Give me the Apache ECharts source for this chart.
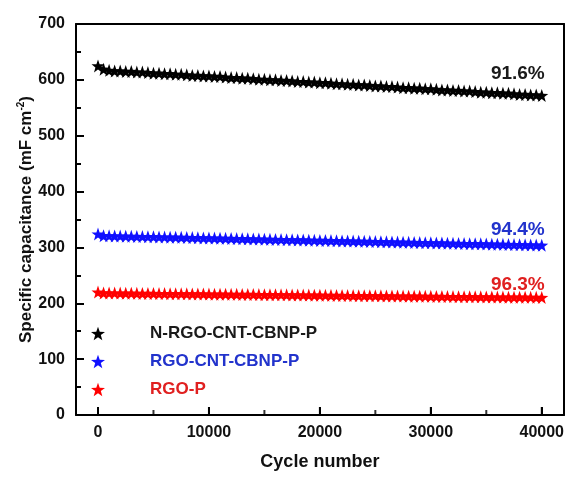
<!DOCTYPE html>
<html>
<head>
<meta charset="utf-8">
<script src="https://cdn.jsdelivr.net/npm/echarts@6/dist/echarts.min.js"></script>
<style>
  html, body { margin: 0; padding: 0; background: #fff; }
  #chart { width: 567px; height: 477px; }
</style>
</head>
<body>
<div id="chart"></div>
<script>
// cycle numbers (x)
const cycles = [
  0, 500, 1000, 1500, 2000, 2500, 3000, 3500, 4000, 4500,
  5000, 5500, 6000, 6500, 7000, 7500, 8000, 8500, 9000, 9500,
  10000, 10500, 11000, 11500, 12000, 12500, 13000, 13500, 14000, 14500,
  15000, 15500, 16000, 16500, 17000, 17500, 18000, 18500, 19000, 19500,
  20000, 20500, 21000, 21500, 22000, 22500, 23000, 23500, 24000, 24500,
  25000, 25500, 26000, 26500, 27000, 27500, 28000, 28500, 29000, 29500,
  30000, 30500, 31000, 31500, 32000, 32500, 33000, 33500, 34000, 34500,
  35000, 35500, 36000, 36500, 37000, 37500, 38000, 38500, 39000, 39500,
  40000
];

const nRgoCntCbnp = [
  625, 619, 617, 616, 616, 615, 615, 614, 614, 613,
  612, 612, 611, 611, 610, 610, 609, 608, 608, 607,
  607, 606, 606, 605, 604, 604, 603, 603, 602, 601,
  601, 600, 600, 599, 599, 598, 597, 597, 596, 596,
  595, 595, 594, 593, 593, 592, 592, 591, 591, 590,
  589, 589, 588, 588, 587, 586, 586, 585, 585, 584,
  584, 583, 582, 582, 581, 581, 580, 580, 579, 578,
  578, 577, 577, 576, 576, 575, 574, 574, 573, 573,
  572
];

const rgoCntCbnp = [
  324, 321.0, 320.8, 320.6, 320.4, 320.1, 319.9, 319.7, 319.5, 319.3,
  319.1, 318.8, 318.6, 318.4, 318.2, 318.0, 317.8, 317.6, 317.3, 317.1,
  316.9, 316.7, 316.5, 316.3, 316.0, 315.8, 315.6, 315.4, 315.2, 315.0,
  314.8, 314.5, 314.3, 314.1, 313.9, 313.7, 313.5, 313.3, 313.0, 312.8,
  312.6, 312.4, 312.2, 312.0, 311.7, 311.5, 311.3, 311.1, 310.9, 310.7,
  310.5, 310.2, 310.0, 309.8, 309.6, 309.4, 309.2, 308.9, 308.7, 308.5,
  308.3, 308.1, 307.9, 307.7, 307.4, 307.2, 307.0, 306.8, 306.6, 306.4,
  306.2, 305.9, 305.7, 305.5, 305.3, 305.1, 304.9, 304.6, 304.4, 304.2,
  304.0
];

const rgoP = [
  220, 218.5, 218.4, 218.3, 218.2, 218.1, 218.0, 217.8, 217.7, 217.6,
  217.5, 217.4, 217.3, 217.2, 217.1, 217.0, 216.9, 216.8, 216.7, 216.6,
  216.5, 216.4, 216.3, 216.2, 216.1, 216.0, 215.9, 215.8, 215.7, 215.6,
  215.5, 215.4, 215.3, 215.2, 215.1, 215.0, 214.9, 214.8, 214.7, 214.6,
  214.4, 214.3, 214.2, 214.1, 214.0, 213.9, 213.8, 213.7, 213.6, 213.5,
  213.4, 213.3, 213.2, 213.1, 213.0, 212.9, 212.8, 212.7, 212.6, 212.5,
  212.4, 212.3, 212.2, 212.1, 212.0, 211.9, 211.8, 211.7, 211.6, 211.5,
  211.4, 211.3, 211.2, 211.1, 211.0, 211.0, 210.9, 210.8, 210.7, 210.6,
  210.5
];

const seriesNames = ['N-RGO-CNT-CBNP-P', 'RGO-CNT-CBNP-P', 'RGO-P'];
const retention = ['91.6%', '94.4%', '96.3%'];
const xMajorTicks = [0, 10000, 20000, 30000, 40000];
const xMinorTicks = [5000, 15000, 25000, 35000];

const FONT = '"Liberation Sans", Arial, sans-serif';
const STAR = 'path://M0,-10 L2.35,-3.24 L9.51,-3.09 L3.8,1.24 L5.88,8.09 L0,4 L-5.88,8.09 L-3.8,1.24 L-9.51,-3.09 L-2.35,-3.24Z';
const markColors = ['#000000', '#1010ff', '#ff0000'];
const textColors = ['#1a1a1a', '#2233cc', '#e02020'];
const labelDist = [12, 6, 3];

const chart = echarts.init(document.getElementById('chart'));

const allData = [nRgoCntCbnp, rgoCntCbnp, rgoP];

const line = () => ({ show: true, onZero: false, lineStyle: { color: '#000', width: 2 } });
const tick = len => ({ show: true, inside: true, length: len, lineStyle: { color: '#000', width: 2 } });
const labelFont = () => ({ fontFamily: FONT, fontWeight: 'bold', fontSize: 16, color: '#111' });
const frameAxis = extra => Object.assign({
  type: 'value', min: 0, max: 1,
  axisLine: line(), axisTick: { show: false },
  axisLabel: { show: false }, splitLine: { show: false }
}, extra);

// x ticks drawn as small rects standing on the bottom axis
const tickSeries = (values, len) => ({
  type: 'scatter',
  xAxisIndex: 2, yAxisIndex: 2,
  silent: true, clip: false, z: 5,
  symbol: 'rect', symbolSize: [2, len], symbolOffset: [0, -len / 2],
  itemStyle: { color: '#000' },
  data: values.map(v => [v, 0])
});

// grid 0: frame + y axis; grid 1: data area 0..40000
const option = {
  animation: false,
  backgroundColor: '#fff',
  grid: [
    { left: 76, right: 3, top: 24, bottom: 62 },
    { left: 98, right: 23, top: 24, bottom: 62 }
  ],
  legend: {
    orient: 'vertical',
    left: 86, top: 320,
    itemGap: 11,
    itemWidth: 14, itemHeight: 14,
    data: seriesNames.map((name, i) => ({
      name,
      icon: STAR,
      itemStyle: { color: markColors[i] },
      textStyle: { color: textColors[i] }
    })),
    textStyle: {
      fontFamily: FONT, fontWeight: 'bold', fontSize: 17,
      padding: [0, 0, 0, 40]
    }
  },
  xAxis: [
    frameAxis({ gridIndex: 0, position: 'bottom' }),
    frameAxis({ gridIndex: 0, position: 'top' }),
    {
      gridIndex: 1, type: 'value', min: 0, max: 40000, interval: 10000, position: 'bottom',
      name: 'Cycle number', nameLocation: 'middle', nameGap: 38,
      nameTextStyle: { fontFamily: FONT, fontWeight: 'bold', fontSize: 18, color: '#111' },
      axisLine: { show: false, onZero: false },
      axisTick: tick(8),
      axisLabel: Object.assign({ margin: 10, formatter: v => String(v) }, labelFont()),
      splitLine: { show: false }
    }
  ],
  yAxis: [
    {
      gridIndex: 0, type: 'value', min: 0, max: 700, interval: 100, position: 'left',
      name: '{a|Specific capacitance (mF cm}{s|-2}{a|)}',
      nameLocation: 'middle', nameGap: 40, nameMoveOverlap: false,
      nameTextStyle: {
        rich: {
          a: { fontFamily: FONT, fontWeight: 'bold', fontSize: 17, color: '#111', lineHeight: 20 },
          s: { fontFamily: FONT, fontWeight: 'bold', fontSize: 10, color: '#111', verticalAlign: 'top', lineHeight: 20 }
        }
      },
      axisLine: line(),
      axisTick: tick(8),
      minorTick: { show: true, splitNumber: 2, length: 5, lineStyle: { color: '#000', width: 2 } },
      axisLabel: Object.assign({ margin: 11 }, labelFont()),
      splitLine: { show: false }
    },
    frameAxis({ gridIndex: 0, position: 'right' }),
    {
      gridIndex: 1, type: 'value', min: 0, max: 700,
      axisLine: { show: false }, axisTick: { show: false },
      axisLabel: { show: false }, splitLine: { show: false }
    }
  ],
  series: allData.map((vals, i) => ({
    name: seriesNames[i],
    type: 'line',
    xAxisIndex: 2,
    yAxisIndex: 2,
    symbol: STAR,
    symbolSize: 13,
    showAllSymbol: true,
    lineStyle: { color: markColors[i], width: 2 },
    itemStyle: { color: markColors[i] },
    data: cycles.map((c, k) => [c, vals[k]]),
    markPoint: {
      symbol: 'circle', symbolSize: 0,
      itemStyle: { color: 'transparent' },
      label: {
        show: true, position: 'top', distance: labelDist[i], align: 'right', offset: [3, 0],
        formatter: retention[i],
        fontFamily: FONT, fontWeight: 'bold', fontSize: 19, color: textColors[i]
      },
      data: [{ coord: [cycles[cycles.length - 1], vals[vals.length - 1]] }]
    }
  })).concat([tickSeries(xMajorTicks, 8), tickSeries(xMinorTicks, 5)])
};

chart.setOption(option);
</script>
</body>
</html>
